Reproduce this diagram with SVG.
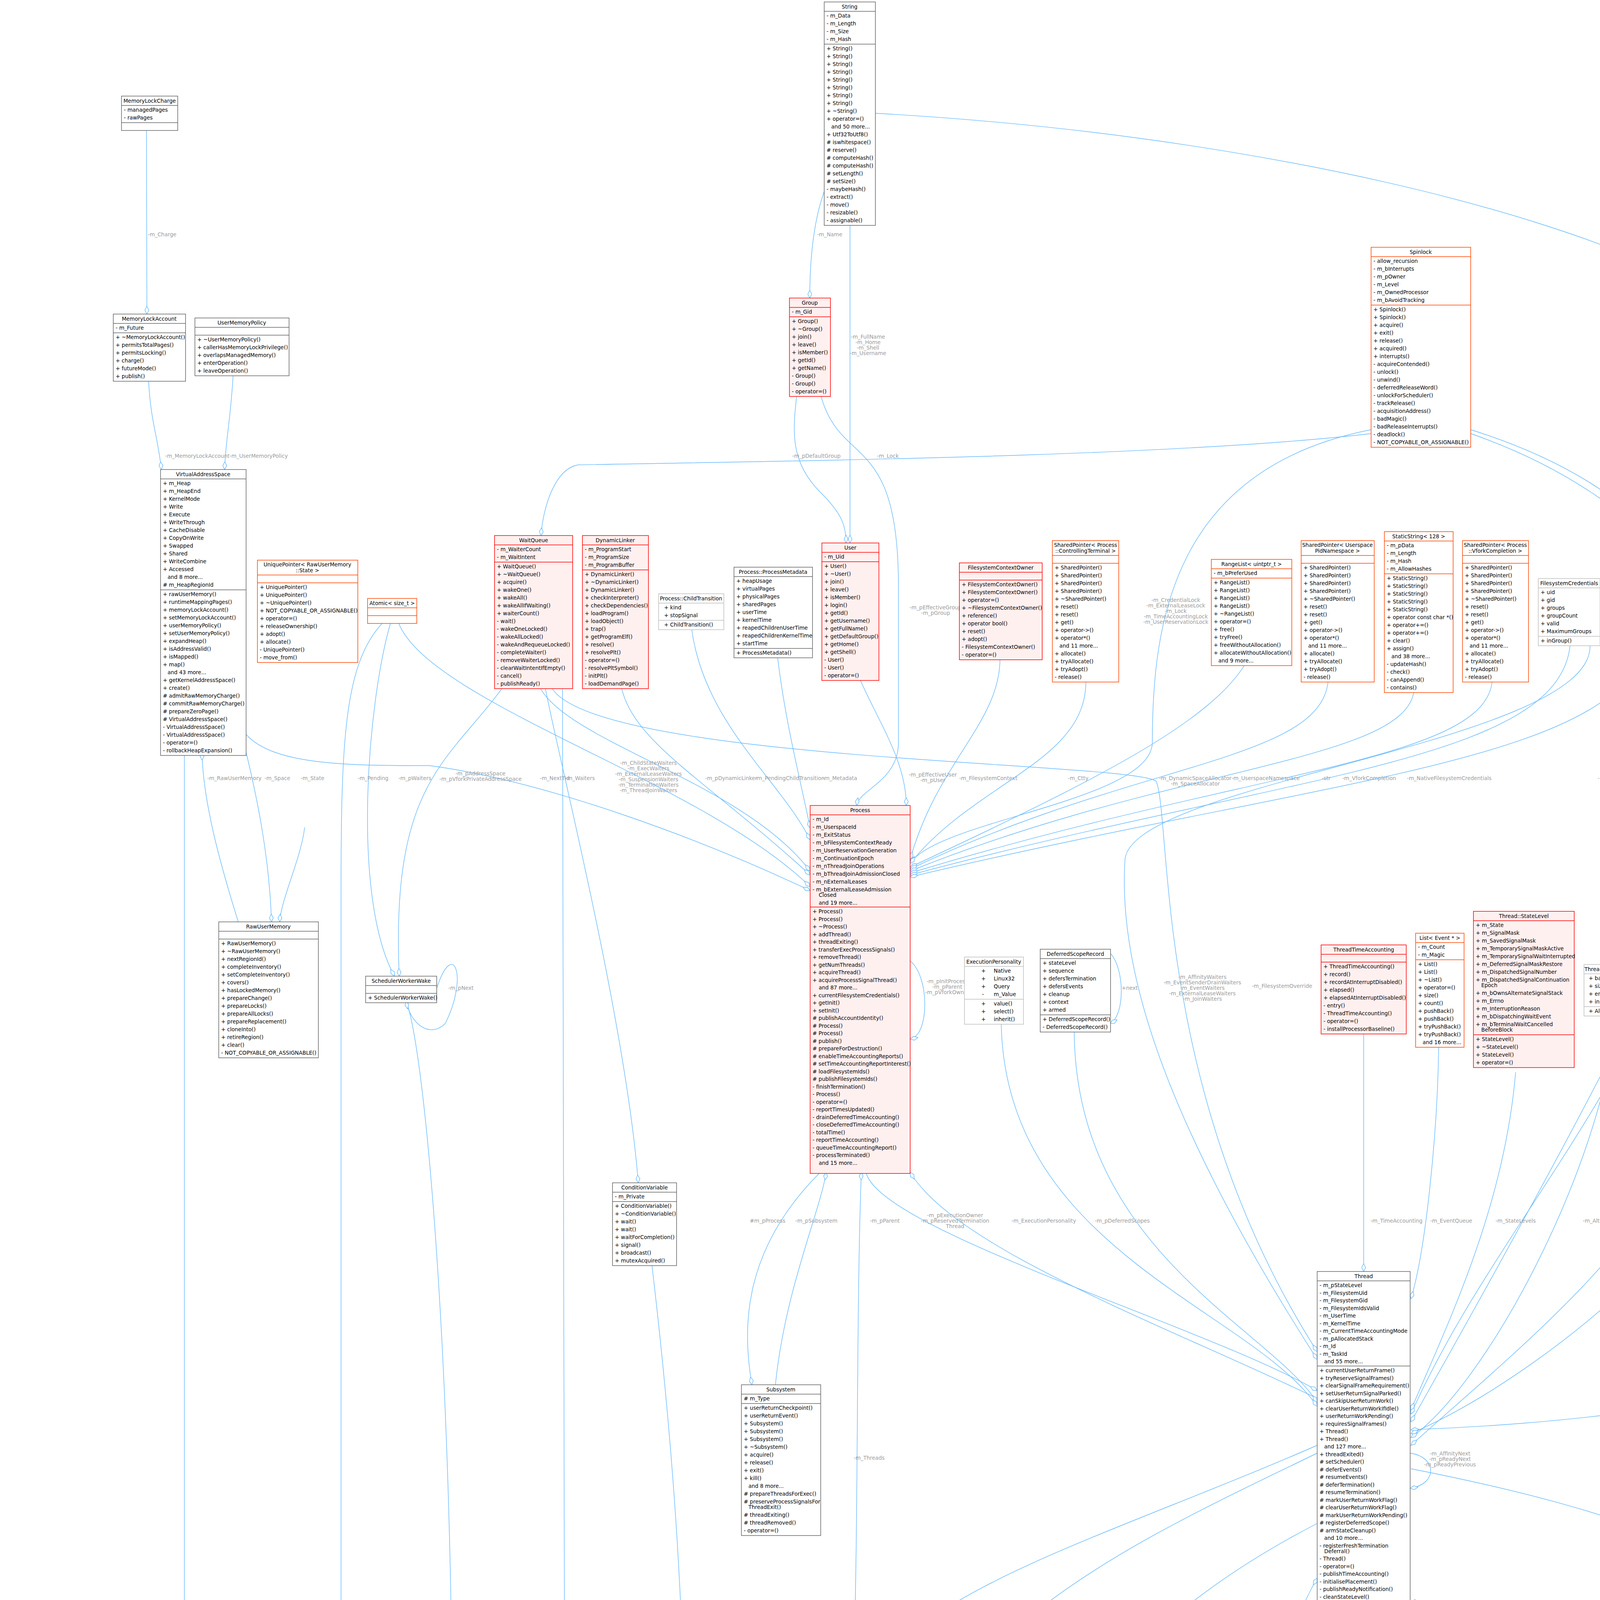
<svg xmlns="http://www.w3.org/2000/svg" width="4983" height="6895" viewBox="0 0 4983 6895">
<style>
.b{fill:#fff;stroke:#666;stroke-width:1.5}
.r{fill:#FFF0F0;stroke:#FF0000;stroke-width:1.5}
.o{fill:#fff;stroke:#FF4500;stroke-width:1.5}
.g{fill:#fff;stroke:#BFBFBF;stroke-width:1.5}
.k{fill:#999;stroke:#666;stroke-width:1.5}
.sb{stroke:#666;stroke-width:1.5;fill:none}
.sr{stroke:#FF0000;stroke-width:1.5;fill:none}
.so{stroke:#FF4500;stroke-width:1.5;fill:none}
.sg{stroke:#BFBFBF;stroke-width:1.5;fill:none}
text{font-family:"DejaVu Sans","Liberation Sans",sans-serif;font-size:13.5px;fill:#000}
.h{text-anchor:middle}
.l{fill:#9A9A9A;text-anchor:middle}
.e{fill:none;stroke:#63B8FF;stroke-width:1.4;marker-end:url(#d)}
.i{fill:none;stroke:#63B8FF;stroke-width:1.4;marker-end:url(#tri)}
</style>
<defs>
<marker id="d" viewBox="0 0 22 12" refX="21" refY="6" markerWidth="22" markerHeight="12" markerUnits="userSpaceOnUse" orient="auto"><path d="M1,6 L11,1 L21,6 L11,11 Z" fill="#fff" stroke="#63B8FF" stroke-width="1.4"/></marker>
<marker id="tri" viewBox="0 0 20 16" refX="19" refY="8" markerWidth="20" markerHeight="16" markerUnits="userSpaceOnUse" orient="auto"><path d="M1,1 L19,8 L1,15 Z" fill="#fff" stroke="#63B8FF" stroke-width="1.4"/></marker>
</defs>
<rect width="4983" height="6895" fill="#fff"/>

<g id="connectors">
<path class="e" d="M375,334 L376,804"/><text class="l" x="415" y="605">-m_Charge</text>
<path class="e" d="M380,968 C385,1080 405,1120 413,1202"/><text class="l" x="505" y="1172">-m_MemoryLockAccount</text>
<path class="e" d="M597,958 C590,1080 578,1120 575,1202"/><text class="l" x="662" y="1172">-m_UserMemoryPolicy</text>
<path class="e" d="M2110,490 C2085,560 2073,650 2073,763"/><text class="l" x="2124" y="605">-m_Name</text>
<path class="e" d="M2176,577 L2176,1390"/><text class="l" x="2222" y="867">-m_FullName</text><text class="l" x="2222" y="881">-m_Home</text><text class="l" x="2222" y="895">-m_Shell</text><text class="l" x="2222" y="909">-m_Username</text>
<path class="e" d="M2241,290 C3500,360 4690,700 4690,1100 L4690,3400 C4690,3600 3900,3650 3612,3660"/><text class="l" x="4726" y="1567">-m_Name</text>
<path class="e" d="M2040,1008 C2030,1100 2020,1180 2100,1260 C2150,1310 2166,1340 2166,1390"/><text class="l" x="2090" y="1172">-m_pDefaultGroup</text>
<path class="e" d="M2100,1008 C2150,1200 2300,1100 2300,1500 L2300,1900 C2300,2000 2200,2020 2193,2062"/><text class="l" x="2395" y="1560">-m_pEffectiveGroup</text><text class="l" x="2395" y="1574">-m_pGroup</text>
<path class="e" d="M2200,1736 C2250,1850 2320,1950 2320,2062"/><text class="l" x="2388" y="1988">-m_pEffectiveUser</text><text class="l" x="2388" y="2002">-m_pUser</text>
<path class="e" d="M3510,1110 C3000,1170 2000,1180 1480,1190 C1420,1200 1390,1300 1385,1371"/><text class="l" x="2273" y="1172">-m_Lock</text>
<path class="e" d="M3510,1100 C3000,1200 2950,1600 2950,1900 C2950,2050 2400,2100 2330,2210"/><text class="l" x="3010" y="1541">-m_CredentialLock</text><text class="l" x="3010" y="1555">-m_ExternalLeaseLock</text><text class="l" x="3010" y="1569">-m_Lock</text><text class="l" x="3010" y="1583">-m_TimeAccountingLock</text><text class="l" x="3010" y="1597">-m_UserReservationLock</text>
<path class="e" d="M3765,1100 C4400,1300 4480,1700 4480,2300 C4480,3000 4000,3350 3612,3700"/><text class="l" x="4752" y="3727">-m_AffinityQueueLock</text><text class="l" x="4752" y="3741">-m_IrqWorkLock</text>
<path class="e" d="M3765,1110 C4600,1400 4720,2200 4720,3400 C4720,4400 4300,4800 2877,5560"/><text class="l" x="4445" y="4302">-m_NewThreadDataLock</text>
<path class="e" d="M1380,1756 C1450,1900 1900,2000 2074,2230"/><text class="l" x="1660" y="1958">-m_ChildStateWaiters</text><text class="l" x="1660" y="1972">-m_ExecWaiters</text><text class="l" x="1660" y="1986">-m_ExternalLeaseWaiters</text><text class="l" x="1660" y="2000">-m_SuspensionWaiters</text><text class="l" x="1660" y="2014">-m_TerminationWaiters</text><text class="l" x="1660" y="2028">-m_ThreadJoinWaiters</text>
<path class="e" d="M1395,1756 C1420,1900 1600,2600 1634,3028"/><text class="l" x="1485" y="1997">-m_Waiters</text>
<path class="e" d="M1410,1756 C1500,1950 2900,1950 2960,2000 C3000,2100 2950,2800 3372,3460"/><text class="l" x="3078" y="2506">-m_AffinityWaiters</text><text class="l" x="3078" y="2520">-m_EventSenderDrainWaiters</text><text class="l" x="3078" y="2534">-m_EventWaiters</text><text class="l" x="3078" y="2548">-m_ExternalLeaseWaiters</text><text class="l" x="3078" y="2562">-m_JoinWaiters</text>
<path class="e" d="M1440,1756 L1445,4200 C1445,4700 2300,5100 2612,5830"/><text class="l" x="1562" y="4300">-m_TimeAccountingWorkerWaiters</text>
<path class="e" d="M1590,1756 C1620,1900 1800,1990 2074,2240"/><text class="l" x="1872" y="1997">-m_pDynamicLinker</text>
<path class="e" d="M1770,1605 C1800,1850 2000,2000 2074,2150"/><text class="l" x="2022" y="1997">-m_PendingChildTransition</text>
<path class="e" d="M1990,1677 C2010,1850 2050,2000 2074,2120"/><text class="l" x="2150" y="1997">-m_Metadata</text>
<path class="e" d="M630,1880 C700,1960 900,1960 1100,1960 C1400,2000 1800,2150 2074,2280"/><text class="l" x="1230" y="1985">-m_pAddressSpace</text><text class="l" x="1230" y="1999">-m_pVforkPrivateAddressSpace</text>
<path class="e" d="M610,2360 C560,2200 520,2050 517,1926"/><text class="l" x="600" y="1997">-m_RawUserMemory</text>
<path class="e" d="M630,1926 C660,2050 690,2200 695,2360"/><text class="l" x="710" y="1997">-m_Space</text>
<path class="e" d="M780,2118 C770,2200 720,2300 716,2360"/><text class="l" x="800" y="1997">-m_State</text>
<path class="e" d="M1000,1594 C940,1800 900,2300 1010,2499"/><text class="l" x="955" y="1997">-m_Pending</text>
<path class="e" d="M1290,1756 C1150,1950 1000,2000 1022,2499"/><text class="l" x="1062" y="1997">-m_pWaiters</text>
<path class="e" d="M1020,1594 C1100,1800 1800,2000 2074,2270"/><text class="l" x="1420" y="1997">-m_NextTid</text>
<path class="e" d="M980,1594 C880,1700 873,1900 873,2300 L873,5100 C873,5400 2000,5600 2612,5845"/><text class="l" x="990" y="4245">-m_AffinityRequests</text><text class="l" x="990" y="4259">-m_DeferredThreadReapPublication</text><text class="l" x="990" y="4273">State</text><text class="l" x="990" y="4287">-m_IrqWorkDoorbell</text><text class="l" x="990" y="4301">-m_RemoteFrameIPending</text><text class="l" x="990" y="4315">-m_ReschedulePending</text><text class="l" x="990" y="4329">-m_StopTimeAccountingWorker</text><text class="l" x="990" y="4343">-m_nDeferredThreadReaps</text>
<path class="e" d="M1040,2563 C1090,2700 1158,3500 1158,4500 C1158,5300 2200,5450 2612,5825"/><text class="l" x="1268" y="4546">-m_TimeAccountingWorkerWake</text><text class="l" x="1268" y="4560">-m_pWorkerWakeHead</text>
<path class="e" d="M1118,2530 C1160,2400 1200,2500 1140,2620 C1100,2660 1050,2620 1040,2563"/><text class="l" x="1180" y="2534">-m_pNext</text>
<path class="e" d="M1668,3231 C1700,3500 1752,4000 1752,4500 C1752,5200 2300,5500 2612,5810"/><text class="l" x="1772" y="4553">-m_NewThreadDataCondition</text>
<path class="e" d="M472,1926 L472,6363"/><text class="l" x="555" y="4553">-m_VirtualAddressSpace</text>
<path class="e" d="M2560,1686 C2560,1850 2400,1950 2330,2200"/><text class="l" x="2530" y="1997">-m_FilesystemContext</text>
<path class="e" d="M2780,1744 C2780,1950 2500,2000 2330,2210"/><text class="l" x="2760" y="1997">-m_Ctty</text>
<path class="e" d="M3190,1696 C3100,1850 2800,2000 2330,2220"/><text class="l" x="3060" y="1997">-m_DynamicSpaceAllocator</text><text class="l" x="3060" y="2011">-m_SpaceAllocator</text>
<path class="e" d="M3400,1744 C3380,1950 2900,1950 2330,2225"/><text class="l" x="3240" y="1997">-m_UserspaceNamespace</text>
<path class="e" d="M3620,1767 C3600,1950 3000,1960 2330,2230"/><text class="l" x="3395" y="1997">-str</text>
<path class="e" d="M3820,1744 C3800,1950 3200,1970 2330,2235"/><text class="l" x="3505" y="1997">-m_VforkCompletion</text>
<path class="e" d="M4020,1645 C4000,1950 3300,1980 2330,2240"/><text class="l" x="3710" y="1997">-m_NativeFilesystemCredentials</text>
<path class="e" d="M4215,1628 C4180,1950 3400,1990 2330,2245"/><text class="l" x="4180" y="1997">-m_FilesystemContextLock</text>
<path class="e" d="M4260,1628 C4350,1900 4400,2100 4300,2400 C4100,2900 3800,3200 3612,3620"/><text class="l" x="4390" y="1997">-m_ExternalLeaseLock</text>
<path class="e" d="M4540,1686 C4560,1900 4600,2300 4590,2489"/><text class="l" x="4592" y="1997">-allowed</text>
<path class="e" d="M4520,1686 C4500,2000 4200,2600 3612,3640"/><text class="l" x="4455" y="2529">-m_RequestedAffinity</text>
<path class="e" d="M4070,1645 C4100,1900 2900,2000 2880,2200 C2860,2500 3000,2900 3372,3480"/><text class="l" x="3282" y="2529">-m_FilesystemOverride</text>
<path class="e" d="M2330,2460 C2380,2500 2380,2650 2330,2660"/><text class="l" x="2425" y="2517">-m_pInitProcess</text><text class="l" x="2425" y="2531">-m_pParent</text><text class="l" x="2425" y="2545">-m_pVforkOwner</text>
<path class="e" d="M2100,3001 C1900,3200 1900,3400 1925,3545"/><text class="l" x="1965" y="3130">#m_pProcess</text>
<path class="e" d="M1985,3545 C2010,3300 2100,3100 2115,3001"/><text class="l" x="2090" y="3130">-m_pSubsystem</text>
<path class="e" d="M2180,4380 C2200,4000 2190,3400 2205,3001"/><text class="l" x="2225" y="3737">-m_Threads</text>
<path class="e" d="M3372,3700 C2800,3950 2230,4100 2219,4380"/><text class="l" x="2282" y="4300">-m_Data</text>
<path class="e" d="M3372,3720 C2900,3950 2320,4200 2296,4750"/><text class="l" x="2348" y="4300">-m_pThread</text>
<path class="e" d="M2217,3001 C2250,3150 3100,3400 3372,3560"/><text class="l" x="2265" y="3130">-m_pParent</text>
<path class="e" d="M3372,3580 C3000,3400 2450,3200 2330,3001"/><text class="l" x="2445" y="3116">-m_pExecutionOwner</text><text class="l" x="2445" y="3130">-m_pReservedTermination</text><text class="l" x="2445" y="3144">Thread</text>
<path class="e" d="M2563,2614 C2570,3200 3200,3350 3372,3600"/><text class="l" x="2672" y="3130">-m_ExecutionPersonality</text>
<path class="e" d="M2750,2635 C2750,3200 3250,3400 3372,3590"/><text class="l" x="2873" y="3130">-m_pDeferredScopes</text>
<path class="e" d="M2842,2440 C2880,2480 2880,2600 2842,2620"/><text class="l" x="2892" y="2534">+next</text>
<path class="e" d="M3491,2644 L3491,3255"/><text class="l" x="3575" y="3130">-m_TimeAccounting</text>
<path class="e" d="M3683,2681 C3680,2900 3650,3200 3612,3325"/><text class="l" x="3715" y="3130">-m_EventQueue</text>
<path class="e" d="M3880,2745 C3850,3100 3700,3400 3612,3610"/><text class="l" x="3880" y="3130">-m_StateLevels</text>
<path class="e" d="M4140,2593 C4100,3000 3800,3550 3612,3680"/><text class="l" x="4135" y="3130">-m_AlternateSignalStack</text>
<path class="e" d="M4590,2574 C4580,3000 4000,3500 3612,3670"/><text class="l" x="4555" y="3130">-m_Placement</text>
<path class="e" d="M3610,3720 C3680,3730 3680,3800 3610,3810"/><text class="l" x="3712" y="3726">-m_AffinityNext</text><text class="l" x="3712" y="3740">-m_pReadyNext</text><text class="l" x="3712" y="3754">-m_pReadyPrevious</text>
<path class="e" d="M3270,4520 C3250,4400 3280,4200 3372,4040"/><text class="l" x="3390" y="4300">-m_DeferredReapNode</text>
<path class="e" d="M3500,4215 C3500,4350 3420,4450 3400,4520"/><text class="l" x="3540" y="4300">thread</text>
<path class="e" d="M3372,3900 C2600,4300 2560,4800 2550,5300 C2550,5600 2600,5700 2612,5700"/><text class="l" x="2650" y="4870">-m_AffinityHead</text><text class="l" x="2650" y="4884">-m_AffinityTail</text><text class="l" x="2650" y="4898">-m_pIdleThread</text>
<path class="e" d="M2877,5900 C3700,5600 3800,5000 3800,4600 C3800,4300 3700,4100 3612,4100"/><text class="l" x="3860" y="4885">-m_pScheduler</text>
<path class="e" d="M3335,4587 L3385,5041"/><text class="l" x="3420" y="4872">-m_Head</text><text class="l" x="3420" y="4886">-m_Stub</text><text class="l" x="3420" y="4900">-m_Tail</text>
<path class="e" d="M3436,4530 C3500,4500 3500,4600 3430,4587"/><text class="l" x="3485" y="4555">+next</text>
<path class="e" d="M3290,4587 C3100,4800 2900,5000 2877,5520"/><text class="l" x="2995" y="5186">-m_DeferredThreadReapStub</text>
<path class="i" d="M2630,5405 L2590,5229"/>
<path class="e" d="M2768,5270 C2760,5320 2745,5360 2745,5405"/><text class="l" x="2840" y="5368">-m_pSchedulingAlgorithm</text>
<path class="e" d="M3160,5300 C3050,5500 2950,5600 2877,5680"/><text class="l" x="3225" y="5362">-m_DelayedNewThreadData</text><text class="l" x="3225" y="5376">-m_NewThreadData</text>
<path class="e" d="M3340,5331 C3200,5500 3000,5650 2877,5765"/><text class="l" x="3430" y="5369">-m_DeferredThreadReaps</text>
<path class="e" d="M3560,5347 C3350,5600 3100,5700 2877,5790"/><text class="l" x="3630" y="5369">-m_TimeAccountingState</text>
<path class="e" d="M3905,5216 C3880,5400 3700,5600 2877,5820"/><text class="l" x="3913" y="5369">-m_ClockDeadline</text>
<path class="e" d="M2240,5018 C2150,5400 2500,5700 2612,5810"/><text class="l" x="2335" y="5176">-m_NewThreadWorker</text><text class="l" x="2335" y="5190">-m_TimeAccountingWorker</text>
<path class="e" d="M135,5925 C160,6100 260,6300 335,6475"/><text class="l" x="300" y="6333">-m_KernelGsAnchor</text>
<path class="e" d="M335,6560 C150,6450 60,6300 100,5925"/><text class="l" x="165" y="6333">+information</text>
<path class="e" d="M362,5979 C370,6150 400,6300 405,6363"/><text class="l" x="432" y="6333">-m_Tss</text>
<path class="e" d="M2612,6000 C1700,6300 900,6500 608,6575"/><text class="l" x="1390" y="6333">-m_Scheduler</text>
<path class="e" d="M3612,3760 C4832,4000 4832,4300 4832,5300 C4832,5500 3000,6300 608,6610"/><text class="l" x="4900" y="5186">-m_pCurrentThread</text>
<path class="e" d="M4950,5943 C4960,6200 4900,6330 4800,6350 C3500,6550 1500,6600 608,6620"/><text class="l" x="4888" y="6333">-m_RcuState</text>
</g>

<g id="n-string"><rect class="b" x="2110" y="5" width="131" height="572"/><text class="h" x="2175" y="22">String</text><path class="sb" d="M2110,29h131M2110,113h131"/>
<text x="2116" y="45"><tspan>- m_Data</tspan><tspan x="2116" dy="20">- m_Length</tspan><tspan x="2116" dy="20">- m_Size</tspan><tspan x="2116" dy="20">- m_Hash</tspan></text>
<text x="2116" y="129"><tspan>+ String()</tspan><tspan x="2116" dy="20">+ String()</tspan><tspan x="2116" dy="20">+ String()</tspan><tspan x="2116" dy="20">+ String()</tspan><tspan x="2116" dy="20">+ String()</tspan><tspan x="2116" dy="20">+ String()</tspan><tspan x="2116" dy="20">+ String()</tspan><tspan x="2116" dy="20">+ String()</tspan><tspan x="2116" dy="20">+ ~String()</tspan><tspan x="2116" dy="20">+ operator=()</tspan><tspan x="2128" dy="20">and 50 more...</tspan><tspan x="2116" dy="20">+ Utf32ToUtf8()</tspan><tspan x="2116" dy="20"># iswhitespace()</tspan><tspan x="2116" dy="20"># reserve()</tspan><tspan x="2116" dy="20"># computeHash()</tspan><tspan x="2116" dy="20"># computeHash()</tspan><tspan x="2116" dy="20"># setLength()</tspan><tspan x="2116" dy="20"># setSize()</tspan><tspan x="2116" dy="20">- maybeHash()</tspan><tspan x="2116" dy="20">- extract()</tspan><tspan x="2116" dy="20">- move()</tspan><tspan x="2116" dy="20">- resizable()</tspan><tspan x="2116" dy="20">- assignable()</tspan></text></g>

<g id="n-memorylockcharge"><rect class="b" x="311" y="246" width="144" height="88"/><text class="h" x="383" y="263">MemoryLockCharge</text><path class="sb" d="M311,270h144M311,314h144"/>
<text x="317" y="286"><tspan>- managedPages</tspan><tspan x="317" dy="20">- rawPages</tspan></text></g>

<g id="n-memorylockaccount"><rect class="b" x="290" y="804" width="185" height="172"/><text class="h" x="382" y="821">MemoryLockAccount</text><path class="sb" d="M290,828h185M290,852h185"/>
<text x="296" y="844">- m_Future</text>
<text x="296" y="868"><tspan>+ ~MemoryLockAccount()</tspan><tspan x="296" dy="20">+ permitsTotalPages()</tspan><tspan x="296" dy="20">+ permitsLocking()</tspan><tspan x="296" dy="20">+ charge()</tspan><tspan x="296" dy="20">+ futureMode()</tspan><tspan x="296" dy="20">+ publish()</tspan></text></g>

<g id="n-usermemorypolicy"><rect class="b" x="499" y="814" width="241" height="148"/><text class="h" x="619" y="831">UserMemoryPolicy</text><path class="sb" d="M499,838h241M499,858h241"/>
<text x="505" y="874"><tspan>+ ~UserMemoryPolicy()</tspan><tspan x="505" dy="20">+ callerHasMemoryLockPrivilege()</tspan><tspan x="505" dy="20">+ overlapsManagedMemory()</tspan><tspan x="505" dy="20">+ enterOperation()</tspan><tspan x="505" dy="20">+ leaveOperation()</tspan></text></g>

<g id="n-virtualaddressspace"><rect class="b" x="411" y="1202" width="219" height="732"/><text class="h" x="520" y="1219">VirtualAddressSpace</text><path class="sb" d="M411,1226h219M411,1510h219"/>
<text x="417" y="1242"><tspan>+ m_Heap</tspan><tspan x="417" dy="20">+ m_HeapEnd</tspan><tspan x="417" dy="20">+ KernelMode</tspan><tspan x="417" dy="20">+ Write</tspan><tspan x="417" dy="20">+ Execute</tspan><tspan x="417" dy="20">+ WriteThrough</tspan><tspan x="417" dy="20">+ CacheDisable</tspan><tspan x="417" dy="20">+ CopyOnWrite</tspan><tspan x="417" dy="20">+ Swapped</tspan><tspan x="417" dy="20">+ Shared</tspan><tspan x="417" dy="20">+ WriteCombine</tspan><tspan x="417" dy="20">+ Accessed</tspan><tspan x="429" dy="20">and 8 more...</tspan><tspan x="417" dy="20"># m_HeapRegionId</tspan></text>
<text x="417" y="1526"><tspan>+ rawUserMemory()</tspan><tspan x="417" dy="20">+ runtimeMappingPages()</tspan><tspan x="417" dy="20">+ memoryLockAccount()</tspan><tspan x="417" dy="20">+ setMemoryLockAccount()</tspan><tspan x="417" dy="20">+ userMemoryPolicy()</tspan><tspan x="417" dy="20">+ setUserMemoryPolicy()</tspan><tspan x="417" dy="20">+ expandHeap()</tspan><tspan x="417" dy="20">+ isAddressValid()</tspan><tspan x="417" dy="20">+ isMapped()</tspan><tspan x="417" dy="20">+ map()</tspan><tspan x="429" dy="20">and 43 more...</tspan><tspan x="417" dy="20">+ getKernelAddressSpace()</tspan><tspan x="417" dy="20">+ create()</tspan><tspan x="417" dy="20"># admitRawMemoryCharge()</tspan><tspan x="417" dy="20"># commitRawMemoryCharge()</tspan><tspan x="417" dy="20"># prepareZeroPage()</tspan><tspan x="417" dy="20"># VirtualAddressSpace()</tspan><tspan x="417" dy="20">- VirtualAddressSpace()</tspan><tspan x="417" dy="20">- VirtualAddressSpace()</tspan><tspan x="417" dy="20">- operator=()</tspan><tspan x="417" dy="20">- rollbackHeapExpansion()</tspan></text></g>

<g id="n-uniquepointer"><rect class="o" x="659" y="1434" width="257" height="262"/><text class="h" x="787" y="1450">UniquePointer&lt; RawUserMemory</text><text class="h" x="787" y="1465">::State &gt;</text><path class="so" d="M659,1472h257M659,1492h257"/>
<text x="665" y="1508"><tspan>+ UniquePointer()</tspan><tspan x="665" dy="20">+ UniquePointer()</tspan><tspan x="665" dy="20">+ ~UniquePointer()</tspan><tspan x="665" dy="20">+ NOT_COPYABLE_OR_ASSIGNABLE()</tspan><tspan x="665" dy="20">+ operator=()</tspan><tspan x="665" dy="20">+ releaseOwnership()</tspan><tspan x="665" dy="20">+ adopt()</tspan><tspan x="665" dy="20">+ allocate()</tspan><tspan x="665" dy="20">- UniquePointer()</tspan><tspan x="665" dy="20">- move_from()</tspan></text></g>

<g id="n-atomic-size"><rect class="o" x="941" y="1532" width="126" height="64"/><text class="h" x="1004" y="1549">Atomic&lt; size_t &gt;</text><path class="so" d="M941,1556h126M941,1576h126"/></g>

<g id="n-waitqueue"><rect class="r" x="1266" y="1371" width="200" height="392"/><text class="h" x="1366" y="1388">WaitQueue</text><path class="sr" d="M1266,1395h200M1266,1439h200"/>
<text x="1272" y="1411"><tspan>- m_WaiterCount</tspan><tspan x="1272" dy="20">- m_WaitIntent</tspan></text>
<text x="1272" y="1455"><tspan>+ WaitQueue()</tspan><tspan x="1272" dy="20">+ ~WaitQueue()</tspan><tspan x="1272" dy="20">+ acquire()</tspan><tspan x="1272" dy="20">+ wakeOne()</tspan><tspan x="1272" dy="20">+ wakeAll()</tspan><tspan x="1272" dy="20">+ wakeAllIfWaiting()</tspan><tspan x="1272" dy="20">+ waiterCount()</tspan><tspan x="1272" dy="20">- wait()</tspan><tspan x="1272" dy="20">- wakeOneLocked()</tspan><tspan x="1272" dy="20">- wakeAllLocked()</tspan><tspan x="1272" dy="20">- wakeAndRequeueLocked()</tspan><tspan x="1272" dy="20">- completeWaiter()</tspan><tspan x="1272" dy="20">- removeWaiterLocked()</tspan><tspan x="1272" dy="20">- clearWaitIntentIfEmpty()</tspan><tspan x="1272" dy="20">- cancel()</tspan><tspan x="1272" dy="20">- publishReady()</tspan></text></g>

<g id="n-dynamiclinker"><rect class="r" x="1491" y="1371" width="169" height="392"/><text class="h" x="1575" y="1388">DynamicLinker</text><path class="sr" d="M1491,1395h169M1491,1459h169"/>
<text x="1497" y="1411"><tspan>- m_ProgramStart</tspan><tspan x="1497" dy="20">- m_ProgramSize</tspan><tspan x="1497" dy="20">- m_ProgramBuffer</tspan></text>
<text x="1497" y="1475"><tspan>+ DynamicLinker()</tspan><tspan x="1497" dy="20">+ ~DynamicLinker()</tspan><tspan x="1497" dy="20">+ DynamicLinker()</tspan><tspan x="1497" dy="20">+ checkInterpreter()</tspan><tspan x="1497" dy="20">+ checkDependencies()</tspan><tspan x="1497" dy="20">+ loadProgram()</tspan><tspan x="1497" dy="20">+ loadObject()</tspan><tspan x="1497" dy="20">+ trap()</tspan><tspan x="1497" dy="20">+ getProgramElf()</tspan><tspan x="1497" dy="20">+ resolve()</tspan><tspan x="1497" dy="20">+ resolvePlt()</tspan><tspan x="1497" dy="20">- operator=()</tspan><tspan x="1497" dy="20">- resolvePltSymbol()</tspan><tspan x="1497" dy="20">- initPlt()</tspan><tspan x="1497" dy="20">- loadDemandPage()</tspan></text></g>

<g id="n-childtransition"><rect class="g" x="1686" y="1520" width="167" height="92"/><text class="h" x="1769" y="1537">Process::ChildTransition</text><path class="sg" d="M1686,1544h167M1686,1588h167"/>
<text x="1700" y="1560"><tspan>+  kind</tspan><tspan x="1700" dy="20">+  stopSignal</tspan></text><text x="1700" y="1604">+  ChildTransition()</text></g>

<g id="n-processmetadata"><rect class="b" x="1879" y="1452" width="201" height="232"/><text class="h" x="1979" y="1469">Process::ProcessMetadata</text><path class="sb" d="M1879,1476h201M1879,1660h201"/>
<text x="1885" y="1492"><tspan>+ heapUsage</tspan><tspan x="1885" dy="20">+ virtualPages</tspan><tspan x="1885" dy="20">+ physicalPages</tspan><tspan x="1885" dy="20">+ sharedPages</tspan><tspan x="1885" dy="20">+ userTime</tspan><tspan x="1885" dy="20">+ kernelTime</tspan><tspan x="1885" dy="20">+ reapedChildrenUserTime</tspan><tspan x="1885" dy="20">+ reapedChildrenKernelTime</tspan><tspan x="1885" dy="20">+ startTime</tspan></text><text x="1885" y="1676">+ ProcessMetadata()</text></g>

<g id="n-group"><rect class="r" x="2021" y="763" width="105" height="252"/><text class="h" x="2073" y="780">Group</text><path class="sr" d="M2021,787h105M2021,811h105"/>
<text x="2027" y="803">- m_Gid</text>
<text x="2027" y="827"><tspan>+ Group()</tspan><tspan x="2027" dy="20">+ ~Group()</tspan><tspan x="2027" dy="20">+ join()</tspan><tspan x="2027" dy="20">+ leave()</tspan><tspan x="2027" dy="20">+ isMember()</tspan><tspan x="2027" dy="20">+ getId()</tspan><tspan x="2027" dy="20">+ getName()</tspan><tspan x="2027" dy="20">- Group()</tspan><tspan x="2027" dy="20">- Group()</tspan><tspan x="2027" dy="20">- operator=()</tspan></text></g>

<g id="n-user"><rect class="r" x="2104" y="1390" width="146" height="352"/><text class="h" x="2177" y="1407">User</text><path class="sr" d="M2104,1414h146M2104,1438h146"/>
<text x="2110" y="1430">- m_Uid</text>
<text x="2110" y="1454"><tspan>+ User()</tspan><tspan x="2110" dy="20">+ ~User()</tspan><tspan x="2110" dy="20">+ join()</tspan><tspan x="2110" dy="20">+ leave()</tspan><tspan x="2110" dy="20">+ isMember()</tspan><tspan x="2110" dy="20">+ login()</tspan><tspan x="2110" dy="20">+ getId()</tspan><tspan x="2110" dy="20">+ getUsername()</tspan><tspan x="2110" dy="20">+ getFullName()</tspan><tspan x="2110" dy="20">+ getDefaultGroup()</tspan><tspan x="2110" dy="20">+ getHome()</tspan><tspan x="2110" dy="20">+ getShell()</tspan><tspan x="2110" dy="20">- User()</tspan><tspan x="2110" dy="20">- User()</tspan><tspan x="2110" dy="20">- operator=()</tspan></text></g>

<g id="n-fscontextowner"><rect class="r" x="2456" y="1441" width="212" height="248"/><text class="h" x="2562" y="1458">FilesystemContextOwner</text><path class="sr" d="M2456,1465h212M2456,1485h212"/>
<text x="2462" y="1501"><tspan>+ FilesystemContextOwner()</tspan><tspan x="2462" dy="20">+ FilesystemContextOwner()</tspan><tspan x="2462" dy="20">+ operator=()</tspan><tspan x="2462" dy="20">+ ~FilesystemContextOwner()</tspan><tspan x="2462" dy="20">+ reference()</tspan><tspan x="2462" dy="20">+ operator bool()</tspan><tspan x="2462" dy="20">+ reset()</tspan><tspan x="2462" dy="20">+ adopt()</tspan><tspan x="2462" dy="20">- FilesystemContextOwner()</tspan><tspan x="2462" dy="20">- operator=()</tspan></text></g>

<g id="n-sp-ctty"><rect class="o" x="2694" y="1384" width="170" height="362"/><text class="h" x="2779" y="1400">SharedPointer&lt; Process</text><text class="h" x="2779" y="1415">::ControllingTerminal &gt;</text><path class="so" d="M2694,1422h170M2694,1442h170"/>
<text x="2700" y="1458"><tspan>+ SharedPointer()</tspan><tspan x="2700" dy="20">+ SharedPointer()</tspan><tspan x="2700" dy="20">+ SharedPointer()</tspan><tspan x="2700" dy="20">+ SharedPointer()</tspan><tspan x="2700" dy="20">+ ~SharedPointer()</tspan><tspan x="2700" dy="20">+ reset()</tspan><tspan x="2700" dy="20">+ reset()</tspan><tspan x="2700" dy="20">+ get()</tspan><tspan x="2700" dy="20">+ operator-&gt;()</tspan><tspan x="2700" dy="20">+ operator*()</tspan><tspan x="2712" dy="20">and 11 more...</tspan><tspan x="2700" dy="20">+ allocate()</tspan><tspan x="2700" dy="20">+ tryAllocate()</tspan><tspan x="2700" dy="20">+ tryAdopt()</tspan><tspan x="2700" dy="20">- release()</tspan></text></g>

<g id="n-rangelist"><rect class="o" x="3101" y="1432" width="206" height="272"/><text class="h" x="3204" y="1449">RangeList&lt; uintptr_t &gt;</text><path class="so" d="M3101,1456h206M3101,1480h206"/>
<text x="3107" y="1472">- m_bPreferUsed</text>
<text x="3107" y="1496"><tspan>+ RangeList()</tspan><tspan x="3107" dy="20">+ RangeList()</tspan><tspan x="3107" dy="20">+ RangeList()</tspan><tspan x="3107" dy="20">+ RangeList()</tspan><tspan x="3107" dy="20">+ ~RangeList()</tspan><tspan x="3107" dy="20">+ operator=()</tspan><tspan x="3107" dy="20">+ free()</tspan><tspan x="3107" dy="20">+ tryFree()</tspan><tspan x="3107" dy="20">+ freeWithoutAllocation()</tspan><tspan x="3107" dy="20">+ allocateWithoutAllocation()</tspan><tspan x="3119" dy="20">and 9 more...</tspan></text></g>

<g id="n-sp-upn"><rect class="o" x="3331" y="1384" width="187" height="362"/><text class="h" x="3424" y="1400">SharedPointer&lt; Userspace</text><text class="h" x="3424" y="1415">PidNamespace &gt;</text><path class="so" d="M3331,1422h187M3331,1442h187"/>
<text x="3337" y="1458"><tspan>+ SharedPointer()</tspan><tspan x="3337" dy="20">+ SharedPointer()</tspan><tspan x="3337" dy="20">+ SharedPointer()</tspan><tspan x="3337" dy="20">+ SharedPointer()</tspan><tspan x="3337" dy="20">+ ~SharedPointer()</tspan><tspan x="3337" dy="20">+ reset()</tspan><tspan x="3337" dy="20">+ reset()</tspan><tspan x="3337" dy="20">+ get()</tspan><tspan x="3337" dy="20">+ operator-&gt;()</tspan><tspan x="3337" dy="20">+ operator*()</tspan><tspan x="3349" dy="20">and 11 more...</tspan><tspan x="3337" dy="20">+ allocate()</tspan><tspan x="3337" dy="20">+ tryAllocate()</tspan><tspan x="3337" dy="20">+ tryAdopt()</tspan><tspan x="3337" dy="20">- release()</tspan></text></g>

<g id="n-staticstring"><rect class="o" x="3544" y="1361" width="176" height="412"/><text class="h" x="3632" y="1378">StaticString&lt; 128 &gt;</text><path class="so" d="M3544,1385h176M3544,1469h176"/>
<text x="3550" y="1401"><tspan>- m_pData</tspan><tspan x="3550" dy="20">- m_Length</tspan><tspan x="3550" dy="20">- m_Hash</tspan><tspan x="3550" dy="20">- m_AllowHashes</tspan></text>
<text x="3550" y="1485"><tspan>+ StaticString()</tspan><tspan x="3550" dy="20">+ StaticString()</tspan><tspan x="3550" dy="20">+ StaticString()</tspan><tspan x="3550" dy="20">+ StaticString()</tspan><tspan x="3550" dy="20">+ StaticString()</tspan><tspan x="3550" dy="20">+ operator const char *()</tspan><tspan x="3550" dy="20">+ operator+=()</tspan><tspan x="3550" dy="20">+ operator+=()</tspan><tspan x="3550" dy="20">+ clear()</tspan><tspan x="3550" dy="20">+ assign()</tspan><tspan x="3562" dy="20">and 38 more...</tspan><tspan x="3550" dy="20">- updateHash()</tspan><tspan x="3550" dy="20">- check()</tspan><tspan x="3550" dy="20">- canAppend()</tspan><tspan x="3550" dy="20">- contains()</tspan></text></g>

<g id="n-sp-vfork"><rect class="o" x="3744" y="1384" width="169" height="362"/><text class="h" x="3828" y="1400">SharedPointer&lt; Process</text><text class="h" x="3828" y="1415">::VforkCompletion &gt;</text><path class="so" d="M3744,1422h169M3744,1442h169"/>
<text x="3750" y="1458"><tspan>+ SharedPointer()</tspan><tspan x="3750" dy="20">+ SharedPointer()</tspan><tspan x="3750" dy="20">+ SharedPointer()</tspan><tspan x="3750" dy="20">+ SharedPointer()</tspan><tspan x="3750" dy="20">+ ~SharedPointer()</tspan><tspan x="3750" dy="20">+ reset()</tspan><tspan x="3750" dy="20">+ reset()</tspan><tspan x="3750" dy="20">+ get()</tspan><tspan x="3750" dy="20">+ operator-&gt;()</tspan><tspan x="3750" dy="20">+ operator*()</tspan><tspan x="3762" dy="20">and 11 more...</tspan><tspan x="3750" dy="20">+ allocate()</tspan><tspan x="3750" dy="20">+ tryAllocate()</tspan><tspan x="3750" dy="20">+ tryAdopt()</tspan><tspan x="3750" dy="20">- release()</tspan></text></g>

<g id="n-fscredentials"><rect class="g" x="3938" y="1481" width="158" height="172"/><text class="h" x="4017" y="1498">FilesystemCredentials</text><path class="sg" d="M3938,1505h158M3938,1629h158"/>
<text x="3944" y="1521"><tspan>+ uid</tspan><tspan x="3944" dy="20">+ gid</tspan><tspan x="3944" dy="20">+ groups</tspan><tspan x="3944" dy="20">+ groupCount</tspan><tspan x="3944" dy="20">+ valid</tspan><tspan x="3944" dy="20">+ MaximumGroups</tspan></text><text x="3944" y="1645">+ inGroup()</text></g>

<g id="n-mutex"><rect class="r" x="4121" y="1501" width="205" height="128"/><text class="h" x="4223" y="1518">Mutex</text><path class="sr" d="M4121,1525h205M4121,1545h205"/>
<text x="4127" y="1561"><tspan>+ Mutex()</tspan><tspan x="4127" dy="20">+ Mutex()</tspan><tspan x="4127" dy="20">+ ~Mutex()</tspan><tspan x="4127" dy="20">+ isOwnedByCurrentThread()</tspan></text></g>

<g id="n-cpuaffinitymask"><rect class="g" x="4459" y="1441" width="124" height="252"/><text class="h" x="4521" y="1458">CpuAffinityMask</text><path class="sg" d="M4459,1465h124M4459,1569h124"/>
<text x="4465" y="1481"><tspan>+ words</tspan><tspan x="4465" dy="20">+ MaximumCpus</tspan><tspan x="4465" dy="20">+ WordBits</tspan><tspan x="4465" dy="20">+ WordCount</tspan><tspan x="4465" dy="20">+ ByteCount</tspan></text>
<text x="4465" y="1585"><tspan>+ data()</tspan><tspan x="4465" dy="20">+ data()</tspan><tspan x="4465" dy="20">+ contains()</tspan><tspan x="4465" dy="20">+ set()</tspan><tspan x="4465" dy="20">+ empty()</tspan><tspan x="4465" dy="20">+ intersect()</tspan></text></g>

<g id="n-spinlock"><rect class="o" x="3510" y="633" width="255" height="512"/><text class="h" x="3637" y="650">Spinlock</text><path class="so" d="M3510,657h255M3510,781h255"/>
<text x="3516" y="673"><tspan>- allow_recursion</tspan><tspan x="3516" dy="20">- m_bInterrupts</tspan><tspan x="3516" dy="20">- m_pOwner</tspan><tspan x="3516" dy="20">- m_Level</tspan><tspan x="3516" dy="20">- m_OwnedProcessor</tspan><tspan x="3516" dy="20">- m_bAvoidTracking</tspan></text>
<text x="3516" y="797"><tspan>+ Spinlock()</tspan><tspan x="3516" dy="20">+ Spinlock()</tspan><tspan x="3516" dy="20">+ acquire()</tspan><tspan x="3516" dy="20">+ exit()</tspan><tspan x="3516" dy="20">+ release()</tspan><tspan x="3516" dy="20">+ acquired()</tspan><tspan x="3516" dy="20">+ interrupts()</tspan><tspan x="3516" dy="20">- acquireContended()</tspan><tspan x="3516" dy="20">- unlock()</tspan><tspan x="3516" dy="20">- unwind()</tspan><tspan x="3516" dy="20">- deferredReleaseWord()</tspan><tspan x="3516" dy="20">- unlockForScheduler()</tspan><tspan x="3516" dy="20">- trackRelease()</tspan><tspan x="3516" dy="20">- acquisitionAddress()</tspan><tspan x="3516" dy="20">- badMagic()</tspan><tspan x="3516" dy="20">- badReleaseInterrupts()</tspan><tspan x="3516" dy="20">- deadlock()</tspan><tspan x="3516" dy="20">- NOT_COPYABLE_OR_ASSIGNABLE()</tspan></text></g>

<g id="n-process"><rect class="r" x="2074" y="2062" width="256" height="942"/><text class="h" x="2202" y="2079">Process</text><path class="sr" d="M2074,2086h256M2074,2322h256"/>
<text x="2080" y="2102"><tspan>- m_Id</tspan><tspan x="2080" dy="20">- m_UserspaceId</tspan><tspan x="2080" dy="20">- m_ExitStatus</tspan><tspan x="2080" dy="20">- m_bFilesystemContextReady</tspan><tspan x="2080" dy="20">- m_UserReservationGeneration</tspan><tspan x="2080" dy="20">- m_ContinuationEpoch</tspan><tspan x="2080" dy="20">- m_nThreadJoinOperations</tspan><tspan x="2080" dy="20">- m_bThreadJoinAdmissionClosed</tspan><tspan x="2080" dy="20">- m_nExternalLeases</tspan><tspan x="2080" dy="20">- m_bExternalLeaseAdmission</tspan><tspan x="2096" dy="14">Closed</tspan><tspan x="2096" dy="20">and 19 more...</tspan></text>
<text x="2080" y="2338"><tspan>+ Process()</tspan><tspan x="2080" dy="19.5">+ Process()</tspan><tspan x="2080" dy="19.5">+ ~Process()</tspan><tspan x="2080" dy="19.5">+ addThread()</tspan><tspan x="2080" dy="19.5">+ threadExiting()</tspan><tspan x="2080" dy="19.5">+ transferExecProcessSignals()</tspan><tspan x="2080" dy="19.5">+ removeThread()</tspan><tspan x="2080" dy="19.5">+ getNumThreads()</tspan><tspan x="2080" dy="19.5">+ acquireThread()</tspan><tspan x="2080" dy="19.5">+ acquireProcessSignalThread()</tspan><tspan x="2096" dy="19.5">and 87 more...</tspan><tspan x="2080" dy="19.5">+ currentFilesystemCredentials()</tspan><tspan x="2080" dy="19.5">+ getInit()</tspan><tspan x="2080" dy="19.5">+ setInit()</tspan><tspan x="2080" dy="19.5"># publishAccountIdentity()</tspan><tspan x="2080" dy="19.5"># Process()</tspan><tspan x="2080" dy="19.5"># Process()</tspan><tspan x="2080" dy="19.5"># publish()</tspan><tspan x="2080" dy="19.5"># prepareForDestruction()</tspan><tspan x="2080" dy="19.5"># enableTimeAccountingReports()</tspan><tspan x="2080" dy="19.5"># setTimeAccountingReportInterest()</tspan><tspan x="2080" dy="19.5"># loadFilesystemIds()</tspan><tspan x="2080" dy="19.5"># publishFilesystemIds()</tspan><tspan x="2080" dy="19.5">- finishTermination()</tspan><tspan x="2080" dy="19.5">- Process()</tspan><tspan x="2080" dy="19.5">- operator=()</tspan><tspan x="2080" dy="19.5">- reportTimesUpdated()</tspan><tspan x="2080" dy="19.5">- drainDeferredTimeAccounting()</tspan><tspan x="2080" dy="19.5">- closeDeferredTimeAccounting()</tspan><tspan x="2080" dy="19.5">- totalTime()</tspan><tspan x="2080" dy="19.5">- reportTimeAccounting()</tspan><tspan x="2080" dy="19.5">- queueTimeAccountingReport()</tspan><tspan x="2080" dy="19.5">- processTerminated()</tspan><tspan x="2096" dy="19.5">and 15 more...</tspan></text></g>

<g id="n-rawusermemory"><rect class="b" x="560" y="2360" width="255" height="348"/><text class="h" x="687" y="2377">RawUserMemory</text><path class="sb" d="M560,2384h255M560,2404h255"/>
<text x="566" y="2420"><tspan>+ RawUserMemory()</tspan><tspan x="566" dy="20">+ ~RawUserMemory()</tspan><tspan x="566" dy="20">+ nextRegionId()</tspan><tspan x="566" dy="20">+ completeInventory()</tspan><tspan x="566" dy="20">+ setCompleteInventory()</tspan><tspan x="566" dy="20">+ covers()</tspan><tspan x="566" dy="20">+ hasLockedMemory()</tspan><tspan x="566" dy="20">+ prepareChange()</tspan><tspan x="566" dy="20">+ prepareLocks()</tspan><tspan x="566" dy="20">+ prepareAllLocks()</tspan><tspan x="566" dy="20">+ prepareReplacement()</tspan><tspan x="566" dy="20">+ cloneInto()</tspan><tspan x="566" dy="20">+ retireRegion()</tspan><tspan x="566" dy="20">+ clear()</tspan><tspan x="566" dy="20">- NOT_COPYABLE_OR_ASSIGNABLE()</tspan></text></g>

<g id="n-schedulerworkerwake"><rect class="b" x="936" y="2499" width="182" height="68"/><text class="h" x="1027" y="2516">SchedulerWorkerWake</text><path class="sb" d="M936,2523h182M936,2543h182"/><text x="942" y="2559">+ SchedulerWorkerWake()</text></g>

<g id="n-conditionvariable"><rect class="b" x="1568" y="3028" width="164" height="212"/><text class="h" x="1650" y="3045">ConditionVariable</text><path class="sb" d="M1568,3052h164M1568,3076h164"/>
<text x="1574" y="3068">- m_Private</text>
<text x="1574" y="3092"><tspan>+ ConditionVariable()</tspan><tspan x="1574" dy="20">+ ~ConditionVariable()</tspan><tspan x="1574" dy="20">+ wait()</tspan><tspan x="1574" dy="20">+ wait()</tspan><tspan x="1574" dy="20">+ waitForCompletion()</tspan><tspan x="1574" dy="20">+ signal()</tspan><tspan x="1574" dy="20">+ broadcast()</tspan><tspan x="1574" dy="20">+ mutexAcquired()</tspan></text></g>

<g id="n-subsystem"><rect class="b" x="1898" y="3545" width="203" height="386"/><text class="h" x="1999" y="3562">Subsystem</text><path class="sb" d="M1898,3569h203M1898,3593h203"/>
<text x="1904" y="3585"># m_Type</text>
<text x="1904" y="3609"><tspan>+ userReturnCheckpoint()</tspan><tspan x="1904" dy="20">+ userReturnEvent()</tspan><tspan x="1904" dy="20">+ Subsystem()</tspan><tspan x="1904" dy="20">+ Subsystem()</tspan><tspan x="1904" dy="20">+ Subsystem()</tspan><tspan x="1904" dy="20">+ ~Subsystem()</tspan><tspan x="1904" dy="20">+ acquire()</tspan><tspan x="1904" dy="20">+ release()</tspan><tspan x="1904" dy="20">+ exit()</tspan><tspan x="1904" dy="20">+ kill()</tspan><tspan x="1916" dy="20">and 8 more...</tspan><tspan x="1904" dy="20"># prepareThreadsForExec()</tspan><tspan x="1904" dy="20"># preserveProcessSignalsFor</tspan><tspan x="1916" dy="14">ThreadExit()</tspan><tspan x="1904" dy="20"># threadExiting()</tspan><tspan x="1904" dy="20"># threadRemoved()</tspan><tspan x="1904" dy="20">- operator=()</tspan></text></g>

<g id="n-vector-thread"><rect class="o" x="2148" y="4380" width="141" height="352"/><text class="h" x="2218" y="4397">Vector&lt; Thread * &gt;</text><path class="so" d="M2148,4404h141M2148,4488h141"/>
<text x="2154" y="4420"><tspan>- m_Size</tspan><tspan x="2154" dy="20">- m_Count</tspan><tspan x="2154" dy="20">- m_Start</tspan><tspan x="2154" dy="20">- m_ReserveFactor</tspan></text>
<text x="2154" y="4504"><tspan>+ Vector()</tspan><tspan x="2154" dy="20">+ Vector()</tspan><tspan x="2154" dy="20">+ Vector()</tspan><tspan x="2154" dy="20">+ ~Vector()</tspan><tspan x="2154" dy="20">+ operator=()</tspan><tspan x="2154" dy="20">+ operator[]()</tspan><tspan x="2154" dy="20">+ operator[]()</tspan><tspan x="2154" dy="20">+ size()</tspan><tspan x="2154" dy="20">+ count()</tspan><tspan x="2154" dy="20">+ pushBack()</tspan><tspan x="2166" dy="20">and 25 more...</tspan><tspan x="2154" dy="20">- reserve()</tspan></text></g>

<g id="n-ownedthread"><rect class="b" x="2212" y="4750" width="139" height="268"/><text class="h" x="2281" y="4767">OwnedThread</text><path class="sb" d="M2212,4774h139M2212,4794h139"/>
<text x="2218" y="4810"><tspan>+ OwnedThread()</tspan><tspan x="2218" dy="20">+ OwnedThread()</tspan><tspan x="2218" dy="20">+ ~OwnedThread()</tspan><tspan x="2218" dy="20">+ adopt()</tspan><tspan x="2218" dy="20">+ stop()</tspan><tspan x="2218" dy="20">+ join()</tspan><tspan x="2218" dy="20">+ get()</tspan><tspan x="2218" dy="20">+ operator-&gt;()</tspan><tspan x="2218" dy="20">+ operator bool()</tspan><tspan x="2218" dy="20">- OwnedThread()</tspan><tspan x="2218" dy="20">- operator=()</tspan></text></g>

<g id="n-executionpersonality"><rect class="g" x="2469" y="2450" width="151" height="172"/><text class="h" x="2544" y="2467">ExecutionPersonality</text><path class="sg" d="M2469,2474h151M2469,2558h151"/>
<text x="2512" y="2490"><tspan>+</tspan><tspan x="2512" dy="20">+</tspan><tspan x="2512" dy="20">+</tspan><tspan x="2514" dy="20">-</tspan></text><text x="2544" y="2490"><tspan>Native</tspan><tspan x="2544" dy="20">Linux32</tspan><tspan x="2544" dy="20">Query</tspan><tspan x="2544" dy="20">m_Value</tspan></text>
<text x="2512" y="2574"><tspan>+</tspan><tspan x="2512" dy="20">+</tspan><tspan x="2512" dy="20">+</tspan></text><text x="2544" y="2574"><tspan>value()</tspan><tspan x="2544" dy="20">select()</tspan><tspan x="2544" dy="20">inherit()</tspan></text></g>

<g id="n-deferredscoperecord"><rect class="b" x="2663" y="2430" width="180" height="212"/><text class="h" x="2753" y="2447">DeferredScopeRecord</text><path class="sb" d="M2663,2454h180M2663,2598h180"/>
<text x="2669" y="2470"><tspan>+ stateLevel</tspan><tspan x="2669" dy="20">+ sequence</tspan><tspan x="2669" dy="20">+ defersTermination</tspan><tspan x="2669" dy="20">+ defersEvents</tspan><tspan x="2669" dy="20">+ cleanup</tspan><tspan x="2669" dy="20">+ context</tspan><tspan x="2669" dy="20">+ armed</tspan></text>
<text x="2669" y="2614"><tspan>+ DeferredScopeRecord()</tspan><tspan x="2669" dy="20">- DeferredScopeRecord()</tspan></text></g>

<g id="n-threadtimeaccounting"><rect class="r" x="3382" y="2419" width="218" height="228"/><text class="h" x="3491" y="2436">ThreadTimeAccounting</text><path class="sr" d="M3382,2443h218M3382,2463h218"/>
<text x="3388" y="2479"><tspan>+ ThreadTimeAccounting()</tspan><tspan x="3388" dy="20">+ record()</tspan><tspan x="3388" dy="20">+ recordAtInterruptDisabled()</tspan><tspan x="3388" dy="20">+ elapsed()</tspan><tspan x="3388" dy="20">+ elapsedAtInterruptDisabled()</tspan><tspan x="3388" dy="20">- entry()</tspan><tspan x="3388" dy="20">- ThreadTimeAccounting()</tspan><tspan x="3388" dy="20">- operator=()</tspan><tspan x="3388" dy="20">- installProcessorBaseline()</tspan></text></g>

<g id="n-list-event"><rect class="o" x="3624" y="2389" width="124" height="292"/><text class="h" x="3686" y="2406">List&lt; Event * &gt;</text><path class="so" d="M3624,2413h124M3624,2457h124"/>
<text x="3630" y="2429"><tspan>- m_Count</tspan><tspan x="3630" dy="20">- m_Magic</tspan></text>
<text x="3630" y="2473"><tspan>+ List()</tspan><tspan x="3630" dy="20">+ List()</tspan><tspan x="3630" dy="20">+ ~List()</tspan><tspan x="3630" dy="20">+ operator=()</tspan><tspan x="3630" dy="20">+ size()</tspan><tspan x="3630" dy="20">+ count()</tspan><tspan x="3630" dy="20">+ pushBack()</tspan><tspan x="3630" dy="20">+ pushBack()</tspan><tspan x="3630" dy="20">+ tryPushBack()</tspan><tspan x="3630" dy="20">+ tryPushBack()</tspan><tspan x="3642" dy="20">and 16 more...</tspan></text></g>

<g id="n-statelevel"><rect class="r" x="3772" y="2333" width="258" height="400"/><text class="h" x="3901" y="2350">Thread::StateLevel</text><path class="sr" d="M3772,2357h258M3772,2649h258"/>
<text x="3778" y="2373"><tspan>+ m_State</tspan><tspan x="3778" dy="20">+ m_SignalMask</tspan><tspan x="3778" dy="20">+ m_SavedSignalMask</tspan><tspan x="3778" dy="20">+ m_TemporarySignalMaskActive</tspan><tspan x="3778" dy="20">+ m_TemporarySignalWaitInterrupted</tspan><tspan x="3778" dy="20">+ m_DeferredSignalMaskRestore</tspan><tspan x="3778" dy="20">+ m_DispatchedSignalNumber</tspan><tspan x="3778" dy="20">+ m_DispatchedSignalContinuation</tspan><tspan x="3792" dy="14">Epoch</tspan><tspan x="3778" dy="20">+ m_bOwnsAlternateSignalStack</tspan><tspan x="3778" dy="20">+ m_Errno</tspan><tspan x="3778" dy="20">+ m_InterruptionReason</tspan><tspan x="3778" dy="20">+ m_bDispatchingWaitEvent</tspan><tspan x="3778" dy="20">+ m_bTerminalWaitCancelled</tspan><tspan x="3792" dy="14">BeforeBlock</tspan></text>
<text x="3778" y="2665"><tspan>+ StateLevel()</tspan><tspan x="3778" dy="20">+ ~StateLevel()</tspan><tspan x="3778" dy="20">+ StateLevel()</tspan><tspan x="3778" dy="20">+ operator=()</tspan></text></g>

<g id="n-altsignalstack"><rect class="g" x="4055" y="2469" width="201" height="132"/><text class="h" x="4155" y="2486">Thread::AlternateSignalStack</text><path class="sg" d="M4055,2493h201M4055,2577h201"/>
<text x="4067" y="2509"><tspan>+   base</tspan><tspan x="4067" dy="20">+   size</tspan><tspan x="4067" dy="20">+   enabled</tspan><tspan x="4067" dy="20">+   inUse</tspan></text><text x="4067" y="2593">+   AlternateSignalStack()</text></g>

<g id="n-threadplacement"><rect class="g" x="4525" y="2489" width="127" height="92"/><text class="h" x="4588" y="2506">ThreadPlacement</text><path class="sg" d="M4525,2513h127M4525,2537h127"/>
<text x="4531" y="2529">+ migratable</text><text x="4531" y="2553"><tspan>+ initialUser()</tspan><tspan x="4531" dy="20">+ inherit()</tspan></text></g>

<g id="n-thread"><rect class="b" x="3372" y="3255" width="238" height="962"/><text class="h" x="3491" y="3272">Thread</text><path class="sb" d="M3372,3279h238M3372,3497h238"/>
<text x="3378" y="3295"><tspan>- m_pStateLevel</tspan><tspan x="3378" dy="19.5">- m_FilesystemUid</tspan><tspan x="3378" dy="19.5">- m_FilesystemGid</tspan><tspan x="3378" dy="19.5">- m_FilesystemIdsValid</tspan><tspan x="3378" dy="19.5">- m_UserTime</tspan><tspan x="3378" dy="19.5">- m_KernelTime</tspan><tspan x="3378" dy="19.5">- m_CurrentTimeAccountingMode</tspan><tspan x="3378" dy="19.5">- m_pAllocatedStack</tspan><tspan x="3378" dy="19.5">- m_Id</tspan><tspan x="3378" dy="19.5">- m_TaskId</tspan><tspan x="3390" dy="19.5">and 55 more...</tspan></text>
<text x="3378" y="3513"><tspan>+ currentUserReturnFrame()</tspan><tspan x="3378" dy="19.5">+ tryReserveSignalFrames()</tspan><tspan x="3378" dy="19.5">+ clearSignalFrameRequirement()</tspan><tspan x="3378" dy="19.5">+ setUserReturnSignalParked()</tspan><tspan x="3378" dy="19.5">+ canSkipUserReturnWork()</tspan><tspan x="3378" dy="19.5">+ clearUserReturnWorkIfIdle()</tspan><tspan x="3378" dy="19.5">+ userReturnWorkPending()</tspan><tspan x="3378" dy="19.5">+ requiresSignalFrames()</tspan><tspan x="3378" dy="19.5">+ Thread()</tspan><tspan x="3378" dy="19.5">+ Thread()</tspan><tspan x="3390" dy="19.5">and 127 more...</tspan><tspan x="3378" dy="19.5">+ threadExited()</tspan><tspan x="3378" dy="19.5"># setScheduler()</tspan><tspan x="3378" dy="19.5"># deferEvents()</tspan><tspan x="3378" dy="19.5"># resumeEvents()</tspan><tspan x="3378" dy="19.5"># deferTermination()</tspan><tspan x="3378" dy="19.5"># resumeTermination()</tspan><tspan x="3378" dy="19.5"># markUserReturnWorkFlag()</tspan><tspan x="3378" dy="19.5"># clearUserReturnWorkFlag()</tspan><tspan x="3378" dy="19.5"># markUserReturnWorkPending()</tspan><tspan x="3378" dy="19.5"># registerDeferredScope()</tspan><tspan x="3378" dy="19.5"># armStateCleanup()</tspan><tspan x="3390" dy="19.5">and 10 more...</tspan><tspan x="3378" dy="19.5">- registerFreshTermination</tspan><tspan x="3390" dy="14">Deferral()</tspan><tspan x="3378" dy="19.5">- Thread()</tspan><tspan x="3378" dy="19.5">- operator=()</tspan><tspan x="3378" dy="19.5">- publishTimeAccounting()</tspan><tspan x="3378" dy="19.5">- initialisePlacement()</tspan><tspan x="3378" dy="19.5">- publishReadyNotification()</tspan><tspan x="3378" dy="19.5">- cleanStateLevel()</tspan><tspan x="3378" dy="19.5">- beginTemporarySignalMask()</tspan><tspan x="3378" dy="19.5">- finishTemporarySignalMask()</tspan><tspan x="3378" dy="19.5">- waitForEventInternal()</tspan><tspan x="3390" dy="19.5">and 23 more...</tspan><tspan x="3378" dy="19.5">- discardJoin()</tspan></text></g>

<g id="n-kernelgsanchor"><rect class="k" x="5" y="5783" width="237" height="142"/><text class="h" x="123" y="5799">X86CommonProcessorInformation</text><text class="h" x="123" y="5814">::KernelGsAnchor</text><path class="sb" d="M5,5821h237M5,5905h237"/>
<text x="35" y="5837"><tspan>+</tspan><tspan x="35" dy="20">+</tspan><tspan x="35" dy="20">+</tspan><tspan x="35" dy="20">+</tspan></text><text x="72" y="5837"><tspan>kernelStack</tspan><tspan x="72" dy="20">userStack</tspan><tspan x="72" dy="20">processorIndex</tspan><tspan x="72" dy="20">pendingUserEntry</tspan></text></g>

<g id="n-x64tss"><rect class="b" x="274" y="5731" width="160" height="248"/><text class="h" x="354" y="5748">X64TaskStateSegment</text><path class="sb" d="M274,5755h160M274,5959h160"/>
<text x="280" y="5771"><tspan>+ res0</tspan><tspan x="280" dy="20">+ rsp0</tspan><tspan x="280" dy="20">+ rsp1</tspan><tspan x="280" dy="20">+ rsp2</tspan><tspan x="280" dy="20">+ res1</tspan><tspan x="280" dy="20">+ ist</tspan><tspan x="280" dy="20">+ res2</tspan><tspan x="280" dy="20">+ res3</tspan><tspan x="280" dy="20">+ ioPermBitmap</tspan><tspan x="280" dy="20">+ ioPermBitmapData</tspan></text></g>

<g id="n-x86cpi"><rect class="b" x="335" y="6363" width="273" height="530"/><text class="h" x="471" y="6380">X86CommonProcessorInformation</text><path class="sb" d="M335,6387h273M335,6551h273"/>
<text x="341" y="6403"><tspan>- m_ProcessorId</tspan><tspan x="341" dy="20">- m_TssSelector</tspan><tspan x="341" dy="20">- m_LocalApicId</tspan><tspan x="341" dy="20">- m_TlsSelector</tspan><tspan x="341" dy="20">- m_DeviceHandlingDepth</tspan><tspan x="341" dy="20">- m_TscClockAnchor</tspan><tspan x="341" dy="20">- m_TscClockAnchorNanoseconds</tspan><tspan x="341" dy="20">- m_TscClockAnchorInitialised</tspan></text>
<text x="341" y="6567"><tspan>+ kernelGsAnchor()</tspan><tspan x="341" dy="20">+ activateKernelGsAnchor()</tspan><tspan x="341" dy="20">+ getVirtualAddressSpace()</tspan><tspan x="341" dy="20">+ setVirtualAddressSpace()</tspan><tspan x="341" dy="20">+ setTssSelector()</tspan><tspan x="341" dy="20">+ setTss()</tspan><tspan x="341" dy="20">+ getTssSelector()</tspan><tspan x="341" dy="20">+ getTss()</tspan><tspan x="341" dy="20">+ getTlsSelector()</tspan><tspan x="341" dy="20">+ setTlsSelector()</tspan><tspan x="353" dy="20">and 10 more...</tspan><tspan x="341" dy="20"># X86CommonProcessorInformation()</tspan><tspan x="341" dy="20"># ~X86CommonProcessorInformation()</tspan><tspan x="341" dy="20"># setIds()</tspan><tspan x="341" dy="20">- X86CommonProcessorInformation()</tspan><tspan x="341" dy="20">- X86CommonProcessorInformation()</tspan><tspan x="341" dy="20">- operator=()</tspan></text></g>

<g id="n-deferredthreadreapnode"><rect class="b" x="3227" y="4520" width="209" height="68"/><text class="h" x="3331" y="4537">DeferredThreadReapNode</text><path class="sb" d="M3227,4544h209M3227,4564h209"/><text x="3233" y="4580">+ DeferredThreadReapNode()</text></g>

<g id="n-schedulertimerhandler"><rect class="b" x="2476" y="5141" width="202" height="88"/><text class="h" x="2577" y="5158">SchedulerTimerHandler</text><path class="sb" d="M2476,5165h202M2476,5185h202"/>
<text x="2482" y="5201"><tspan>+ timer()</tspan><tspan x="2482" dy="20"># ~SchedulerTimerHandler()</tspan></text></g>

<g id="n-schedulingalgorithm"><rect class="b" x="2704" y="5102" width="186" height="168"/><text class="h" x="2797" y="5119">SchedulingAlgorithm</text><path class="sb" d="M2704,5126h186M2704,5146h186"/>
<text x="2710" y="5162"><tspan>+ ~SchedulingAlgorithm()</tspan><tspan x="2710" dy="20">+ addThread()</tspan><tspan x="2710" dy="20">+ removeThread()</tspan><tspan x="2710" dy="20">+ getNext()</tspan><tspan x="2710" dy="20">+ hasReady()</tspan><tspan x="2710" dy="20">+ threadStatusChanged()</tspan></text></g>

<g id="n-perprocessorscheduler"><rect class="b" x="2612" y="5405" width="265" height="898"/><text class="h" x="2744" y="5422">PerProcessorScheduler</text><path class="sb" d="M2612,5429h265M2612,5710h265"/>
<text x="2618" y="5445"><tspan>- m_NewThreadAdmissionOpen</tspan><tspan x="2618" dy="19.8">- m_StopNewThreadWorker</tspan><tspan x="2618" dy="19.8">- m_AffinityAdmissionOpen</tspan><tspan x="2618" dy="19.8">- m_LogicalCpu</tspan><tspan x="2618" dy="19.8">- m_PhysicalCpu</tspan><tspan x="2618" dy="19.8">- m_NominalQuantumNs</tspan><tspan x="2618" dy="19.8">- m_QuantumDeadline</tspan><tspan x="2618" dy="19.8">- m_NextLoadSampleDeadline</tspan><tspan x="2618" dy="19.8">- m_OneShotTimer</tspan><tspan x="2618" dy="19.8">- m_IdleWakeRequested</tspan><tspan x="2618" dy="19.8">- m_SchedulerTickCounter</tspan><tspan x="2618" dy="19.8">- m_UserReturnDiagnosticSequence</tspan><tspan x="2618" dy="19.8">- DeferredReapPublicationClosed</tspan><tspan x="2618" dy="19.8">- DeferredReapPublicationCountMask</tspan></text>
<text x="2618" y="5726"><tspan>+ PerProcessorScheduler()</tspan><tspan x="2618" dy="19.8">+ ~PerProcessorScheduler()</tspan><tspan x="2618" dy="19.8">+ initialise()</tspan><tspan x="2618" dy="19.8">+ checkEventState()</tspan><tspan x="2618" dy="19.8">+ eventHandlerReturned()</tspan><tspan x="2618" dy="19.8">+ addThread()</tspan><tspan x="2618" dy="19.8">+ addThread()</tspan><tspan x="2618" dy="19.8">+ commitCurrentThreadExit()</tspan><tspan x="2618" dy="19.8">+ abandonCurrentThreadStack()</tspan><tspan x="2618" dy="19.8">+ requestCurrentThreadExit</tspan><tspan x="2632" dy="14">ToIdle()</tspan><tspan x="2632" dy="19.8">and 22 more...</tspan><tspan x="2618" dy="19.8">+ stackDiscardCount()</tspan><tspan x="2618" dy="19.8">+ stackDiscardCount()</tspan><tspan x="2618" dy="19.8">- killCurrentThread()</tspan><tspan x="2618" dy="19.8">- schedule()</tspan><tspan x="2618" dy="19.8">- scheduleWithInterruptState()</tspan><tspan x="2618" dy="19.8">- blockCurrent()</tspan><tspan x="2618" dy="19.8">- publishReadyFromWait()</tspan><tspan x="2618" dy="19.8">- finishCurrentThreadExit()</tspan><tspan x="2618" dy="19.8">- serviceDeferredSubsystem</tspan><tspan x="2632" dy="14">Exception()</tspan><tspan x="2618" dy="19.8">- checkEventState()</tspan><tspan x="2618" dy="19.8">- checkEventState()</tspan><tspan x="2618" dy="19.8">- PerProcessorScheduler()</tspan><tspan x="2632" dy="19.8">and 16 more...</tspan><tspan x="2618" dy="19.8">- deleteThreadThenRestoreState()</tspan><tspan x="2618" dy="19.8">- deleteThread()</tspan><tspan x="2618" dy="19.8">- timeAccountingWorkerEntry()</tspan><tspan x="2618" dy="19.8">- processorAddThread()</tspan></text></g>

<g id="n-list-void"><rect class="o" x="3156" y="5041" width="122" height="292"/><text class="h" x="3217" y="5058">List&lt; void * &gt;</text><path class="so" d="M3156,5065h122M3156,5109h122"/>
<text x="3162" y="5081"><tspan>- m_Count</tspan><tspan x="3162" dy="20">- m_Magic</tspan></text>
<text x="3162" y="5125"><tspan>+ List()</tspan><tspan x="3162" dy="20">+ List()</tspan><tspan x="3162" dy="20">+ ~List()</tspan><tspan x="3162" dy="20">+ operator=()</tspan><tspan x="3162" dy="20">+ size()</tspan><tspan x="3162" dy="20">+ count()</tspan><tspan x="3162" dy="20">+ pushBack()</tspan><tspan x="3162" dy="20">+ pushBack()</tspan><tspan x="3162" dy="20">+ tryPushBack()</tspan><tspan x="3162" dy="20">+ tryPushBack()</tspan><tspan x="3174" dy="20">and 16 more...</tspan></text></g>

<g id="n-intrusivempscqueue"><rect fill="#fff" stroke="#FFA07A" stroke-width="1.5" x="3303" y="5041" width="201" height="290"/><text class="h" x="3403" y="5057">IntrusiveMpscQueue</text><text class="h" x="3403" y="5071">&lt; DeferredThreadReapNode,</text><text class="h" x="3403" y="5085">&amp;DeferredThreadReapNode</text><text class="h" x="3403" y="5099">::next &gt;</text><path class="so" d="M3303,5107h201M3303,5127h201"/>
<text x="3323" y="5143"><tspan>+</tspan><tspan x="3323" dy="20">+</tspan><tspan x="3323" dy="20">+</tspan><tspan x="3325" dy="20">-</tspan><tspan x="3325" dy="20">-</tspan><tspan x="3325" dy="20">-</tspan><tspan x="3325" dy="20">-</tspan><tspan x="3325" dy="20">-</tspan><tspan x="3325" dy="20">-</tspan><tspan x="3325" dy="20">-</tspan></text>
<text x="3351" y="5143"><tspan>IntrusiveMpscQueue()</tspan><tspan x="3351" dy="20">push()</tspan><tspan x="3351" dy="20">pop()</tspan><tspan x="3351" dy="20">IntrusiveMpscQueue()</tspan><tspan x="3351" dy="20">operator=()</tspan><tspan x="3351" dy="20">beginPush()</tspan><tspan x="3351" dy="20">loadHead()</tspan><tspan x="3351" dy="20">finishPush()</tspan><tspan x="3351" dy="20">loadNext()</tspan><tspan x="3351" dy="20">storeNext()</tspan></text></g>

<g id="n-dtaws"><rect class="b" x="3529" y="5041" width="236" height="290"/><text class="h" x="3647" y="5057">DeferredTimeAccountingWorker</text><text class="h" x="3647" y="5072">State</text><path class="sb" d="M3529,5079h236M3529,5143h236"/>
<text x="3535" y="5095"><tspan>- m_Published</tspan><tspan x="3535" dy="20">- m_Completed</tspan><tspan x="3535" dy="20">- m_Active</tspan></text>
<text x="3535" y="5159"><tspan>+ DeferredTimeAccountingWorker</tspan><tspan x="3549" dy="14">State()</tspan><tspan x="3535" dy="20">+ publish()</tspan><tspan x="3535" dy="20">+ beginBatch()</tspan><tspan x="3535" dy="20">+ finishBatch()</tspan><tspan x="3535" dy="20">+ ready()</tspan><tspan x="3535" dy="20">+ caughtUp()</tspan><tspan x="3535" dy="20">- DeferredTimeAccountingWorker</tspan><tspan x="3549" dy="14">State()</tspan><tspan x="3535" dy="20">- operator=()</tspan></text></g>

<g id="n-atomic-u64"><rect class="o" x="3840" y="5152" width="142" height="64"/><text class="h" x="3911" y="5169">Atomic&lt; uint64_t &gt;</text><path class="so" d="M3840,5176h142M3840,5196h142"/></g>

<g id="n-rcureadstate"><rect class="b" x="4872" y="5761" width="103" height="192"/><text class="h" x="4923" y="5778">RcuReadState</text><path class="sb" d="M4872,5785h103M4872,5849h103"/>
<text x="4878" y="5801"><tspan>- m_State</tspan><tspan x="4878" dy="20">- Generation</tspan><tspan x="4878" dy="20">- DepthMask</tspan></text>
<text x="4878" y="5865"><tspan>+ enter()</tspan><tspan x="4878" dy="20">+ leave()</tspan><tspan x="4878" dy="20">+ snapshot()</tspan><tspan x="4878" dy="20">+ passed()</tspan><tspan x="4878" dy="20">+ active()</tspan></text></g>
</svg>
